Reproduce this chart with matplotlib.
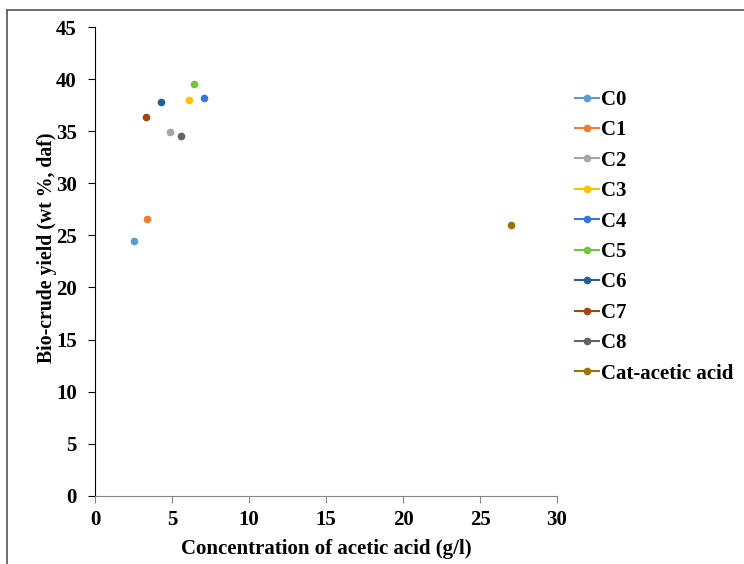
import matplotlib.pyplot as plt
from matplotlib.lines import Line2D

plt.rcParams['font.family'] = ['Liberation Serif', 'DejaVu Serif']
plt.rcParams['font.weight'] = 'bold'

# catalyst runs: acetic acid concentration vs bio-crude yield
labels = ["C0", "C1", "C2", "C3", "C4", "C5", "C6", "C7", "C8", "Cat-acetic acid"]
acetic_acid = [2.5, 3.4, 4.9, 6.1, 7.1, 6.4, 4.3, 3.3, 5.6, 27.0]
yield_daf = [24.5, 26.6, 34.9, 38.0, 38.2, 39.5, 37.8, 36.4, 34.5, 26.0]
colors = ["#5B9BD5", "#ED7D31", "#A5A5A5", "#FFC000", "#3A76D6",
          "#74C442", "#255E91", "#9E480E", "#636363", "#997300"]

fig = plt.figure(figsize=(7.44, 5.64), dpi=100)
ax = fig.add_axes([0.1277, 0.121, 0.621, 0.831])

for lab, x, y, c in zip(labels, acetic_acid, yield_daf, colors):
    ax.plot([x], [y], marker="o", markersize=4.5, color=c, linewidth=1.5,
            linestyle="-", label=lab)

ax.set_xlim(0, 30)
ax.set_ylim(0, 45)
ax.set_xticks(range(0, 31, 5))
ax.set_yticks(range(0, 46, 5))
ax.tick_params(labelsize=15, direction="out", length=5)
ax.tick_params(axis="x", color="#868686", pad=5)
ax.tick_params(axis="y", pad=8)
ax.spines["top"].set_visible(False)
ax.spines["right"].set_visible(False)
ax.spines["bottom"].set_color("#868686")
ax.spines["left"].set_color("black")
for t in ax.get_xticklabels() + ax.get_yticklabels():
    t.set_fontweight("bold")

ax.set_xlabel("Concentration of acetic acid (g/l)", fontsize=15, fontweight="bold", labelpad=7)
ax.set_ylabel("Bio-crude yield (wt %, daf)", fontsize=14.2, fontweight="bold")
ax.yaxis.set_label_coords(-0.083, 0.529)

ax.legend(loc="upper left", bbox_to_anchor=(0.998, 0.906), frameon=False,
          prop={"size": 15, "weight": "bold"}, handlelength=1.15,
          handletextpad=0.1, labelspacing=0.5)

# thin frame along the top and left of the figure
fig.add_artist(Line2D([0.0094, 1.0], [0.982, 0.982], transform=fig.transFigure,
                      color="#555555", linewidth=1.2))
fig.add_artist(Line2D([0.0094, 0.0094], [0.0, 0.982], transform=fig.transFigure,
                      color="#555555", linewidth=1.2))

fig.savefig("out.png", dpi=100)
